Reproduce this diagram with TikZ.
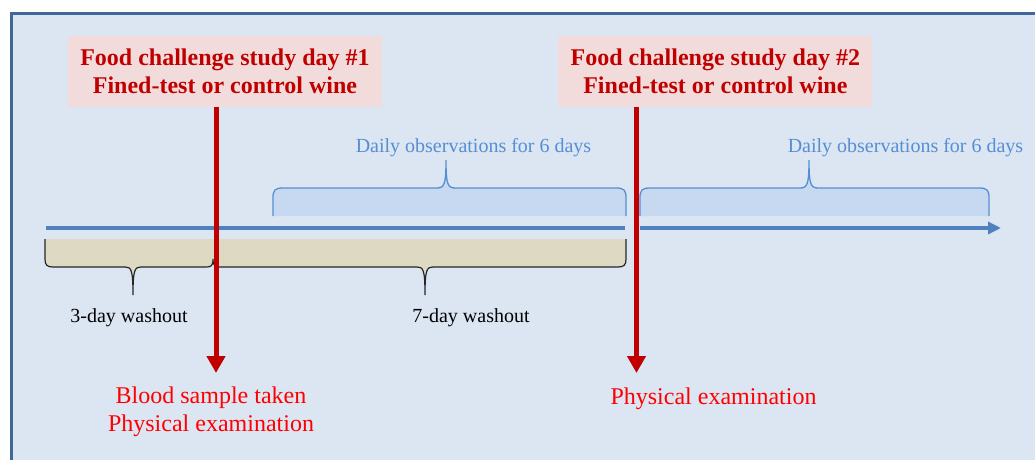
\documentclass[tikz,border=0pt]{standalone}
\usepackage{fontspec}
\setmainfont{Liberation Serif}
\usetikzlibrary{arrows.meta,positioning}
\definecolor{framebl}{HTML}{3F6899}
\definecolor{panelbg}{HTML}{DCE6F2}
\definecolor{boxpink}{HTML}{F2DCDB}
\definecolor{darkred}{HTML}{C00000}
\definecolor{obsblue}{HTML}{558ED5}
\definecolor{obsfill}{HTML}{C6D9F1}
\definecolor{linebl}{HTML}{4F81BD}
\definecolor{washtan}{HTML}{DDD9C3}
\tikzset{
  daybox/.style={fill=boxpink,text=darkred,font=\bfseries\fontsize{24}{28}\selectfont,align=center,
                 minimum width=314pt,minimum height=71pt,inner sep=0pt},
  redarr/.style={draw=darkred,line width=5pt,-{Triangle[length=17pt,width=18pt]}},
  tline/.style={draw=linebl,line width=4pt},
  obsbr/.style={fill=obsfill,draw=obsblue,line width=1.3pt},
  washbr/.style={fill=washtan,draw=black!85,line width=1.2pt},
  obslbl/.style={text=obsblue,font=\fontsize{20}{24}\selectfont,inner sep=0pt},
  washlbl/.style={font=\fontsize{20}{24}\selectfont,inner sep=0pt},
  reslbl/.style={text=red,font=\fontsize{24}{28}\selectfont,align=center,inner sep=0pt},
}
\begin{document}
\begin{tikzpicture}[x=1pt,y=-1pt]
  \useasboundingbox (0,0) rectangle (1035,459);
  \draw[draw=framebl,fill=panelbg,line width=3.3pt] (11.7,13.4) rectangle (1045,470);

  % observation braces
  \foreach \a/\m/\b in {273/446/626,640/809/989}
    \draw[obsbr] (\a,216) -- (\a,198) .. controls (\a,190) and (\a+2,188) .. (\a+10,188)
      -- (\m-10,188) .. controls (\m-2,188) and (\m,186) .. (\m,160)
      .. controls (\m,186) and (\m+2,188) .. (\m+10,188)
      -- (\b-10,188) .. controls (\b-2,188) and (\b,190) .. (\b,198) -- (\b,216);

  % washout braces
  \draw[washbr] (45,239) -- (45,259) .. controls (45,265) and (47,267) .. (53,267)
    -- (125,267) .. controls (131,267) and (133,269) .. (133,295)
    .. controls (133,269) and (135,267) .. (141,267)
    -- (206,267) .. controls (211,267) and (213,266) .. (213,259)
    .. controls (213,266) and (215,267) .. (220,267)
    -- (417,267) .. controls (423,267) and (425,269) .. (425,295)
    .. controls (425,269) and (427,267) .. (433,267)
    -- (618,267) .. controls (624,267) and (626,265) .. (626,259) -- (626,239);

  % timeline
  \draw[tline] (46,228) -- (625,228);
  \draw[tline,-{Triangle[length=13pt,width=12pt]}] (640,228) -- (1001,228);

  \node[daybox] (b1) at (225,71.5) {Food challenge study day \#1\\Fined-test or control wine};
  \node[daybox,right=176pt of b1] (b2) {Food challenge study day \#2\\Fined-test or control wine};

  \coordinate (e1) at (216,373);
  \coordinate (e2) at (636.5,373);
  \draw[redarr] (b1.south -| e1) -- (e1);
  \draw[redarr] (b2.south -| e2) -- (e2);

  \node[reslbl,anchor=base] (r1) at (211,431) {Blood sample taken\\Physical examination};
  \node[reslbl,anchor=base] (r2) at (713.5,404) {Physical examination};

  \node[obslbl,anchor=base] (o1) at (473.5,152) {Daily observations for 6 days};
  \node[obslbl,anchor=base] (o2) at (905.5,152) {Daily observations for 6 days};
  \node[washlbl,anchor=base] (w1) at (129,322) {3-day washout};
  \node[washlbl,anchor=base] (w2) at (471,322) {7-day washout};
\end{tikzpicture}
\end{document}
